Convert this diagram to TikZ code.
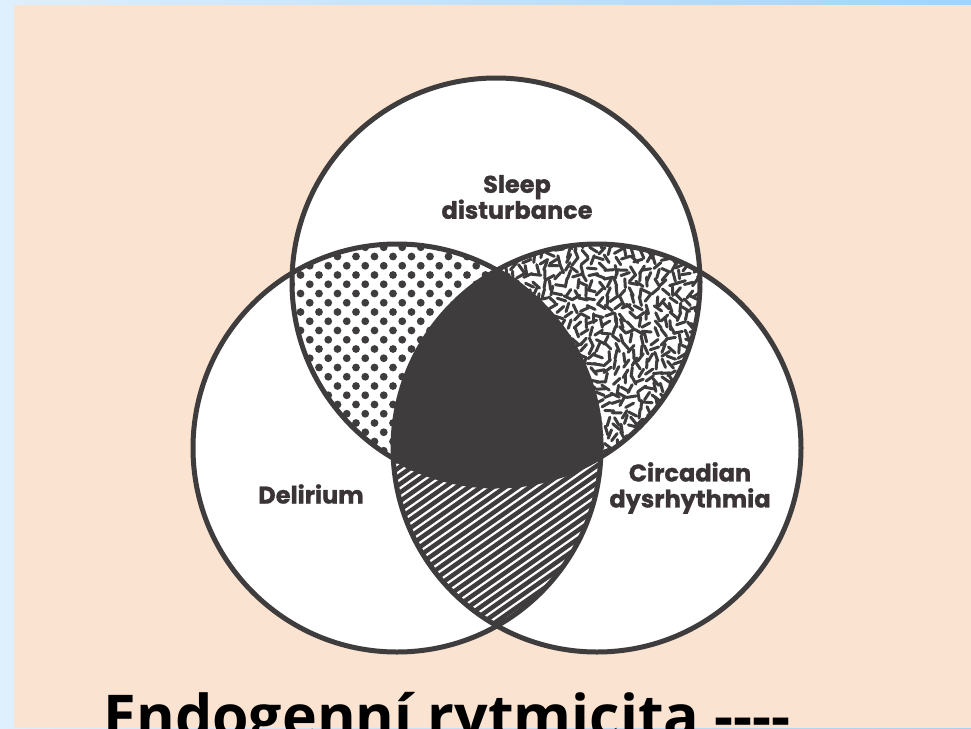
\documentclass[tikz,border=0pt]{standalone}
\usepackage{fontspec}
\newfontfamily\labfont{Poppins}[BoldFeatures={FakeBold=1.2}]
\newfontfamily\botfont{Open Sans}
\definecolor{dk}{RGB}{62,60,61}
\definecolor{peach}{RGB}{250,227,208}
\definecolor{bluel}{RGB}{222,239,253}
\definecolor{blued}{RGB}{165,211,245}
\definecolor{labc}{RGB}{58,52,54}
\tikzset{
  venn/.style={circle, draw=dk, line width=5pt, minimum size=408pt, inner sep=0pt},
  lab/.style={font=\labfont\bfseries\fontsize{24}{26}\selectfont, text=labc, align=center, inner sep=0pt},
  bottxt/.style={font=\botfont\bfseries\fontsize{59}{66}\selectfont, text=black, anchor=base west, inner sep=0pt}
}
\begin{document}
\begin{tikzpicture}[x=1pt,y=-1pt]
\useasboundingbox (0,0) rectangle (971,728);
% backgrounds
\shade[left color=bluel, right color=blued] (0,0) rectangle (971,728);
\fill[bluel] (0,0) rectangle (14,728);
\fill[peach] (14,5) rectangle (971,728);
% white circle interiors
\fill[white] (496,282) circle[radius=204pt];
\fill[white] (397,448) circle[radius=204pt];
\fill[white] (597,448) circle[radius=204pt];
% dots: top & left
\begin{scope}
  \clip (496,282) circle[radius=204pt];
  \clip (397,448) circle[radius=204pt];
  \foreach \i in {0,...,18} \foreach \j in {0,...,28} {
    \fill[dk] ({282+\i*18.5+mod(\j,2)*9.25},{238+\j*9.25}) circle[radius=3.9pt];
  }
\end{scope}
% squiggles: top & right
\begin{scope}
  \clip (496,282) circle[radius=204pt];
  \clip (597,448) circle[radius=204pt];
  \pgfmathsetseed{7}
  \foreach \i in {0,...,27} \foreach \j in {0,...,29} {
    \pgfmathsetmacro\xx{488+\i*8+2.5*rand}
    \pgfmathsetmacro\yy{236+\j*8+2.5*rand}
    \pgfmathsetmacro\aa{180*rnd}
    \draw[dk, line width=3pt, line cap=round] ({\xx+4.5*cos(\aa)},{\yy+4.5*sin(\aa)}) -- ({\xx-4.5*cos(\aa)},{\yy-4.5*sin(\aa)});
  }
\end{scope}
% hatch: left & right
\begin{scope}
  \clip (397,448) circle[radius=204pt];
  \clip (597,448) circle[radius=204pt];
  \fill[dk] (380,400) rectangle (620,650);
  \foreach \k in {-28,...,28} {
    \draw[white, line width=2.2pt] ({497+\k*7*sin(35)-220*cos(35)},{540+\k*7*cos(35)+220*sin(35)}) -- ++({440*cos(35)},{-440*sin(35)});
  }
\end{scope}
% center
\begin{scope}
  \clip (496,282) circle[radius=204pt];
  \clip (397,448) circle[radius=204pt];
  \fill[dk] (597,448) circle[radius=204pt];
\end{scope}
% outlines
\node[venn] (T) at (496,282) {};
\node[venn] (L) at (397,448) {};
\node[venn] (R) at (597,448) {};
% labels
\node[lab] (sleep) at (517,197) {Sleep\\disturbance};
\node[lab] (del) at (311,494) {Delirium};
\node[lab] (circ) at (690,488) {Circadian\\dysrhythmia};
\node[bottxt] (endo) at (103,737) {Endogenní rytmicita ----};
\end{tikzpicture}
\end{document}
